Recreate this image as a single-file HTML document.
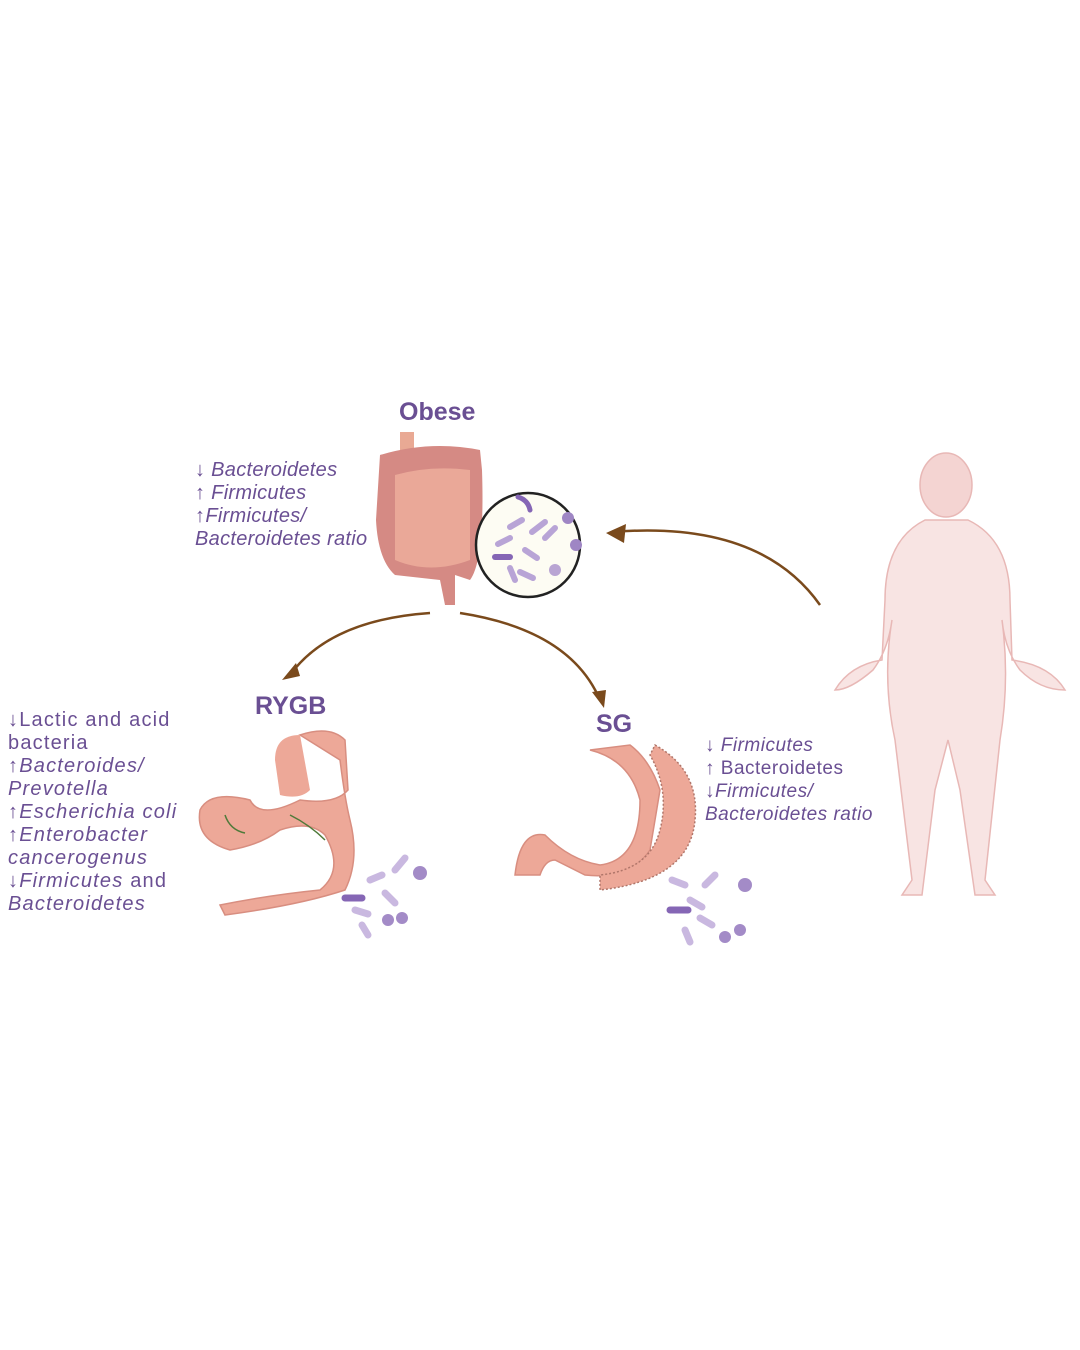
<!DOCTYPE html>
<html><head><meta charset="utf-8"><style>
html,body{margin:0;padding:0;background:#fff}
body{width:1080px;height:1350px;position:relative;overflow:hidden;font-family:"Liberation Sans",sans-serif;color:#6a4f93}
.t{position:absolute;font-size:19px;line-height:23px;white-space:nowrap}
.h{position:absolute;font-weight:bold;font-size:25px;color:#6a4f93}
i{font-style:italic}
</style></head><body>
<svg width="1080" height="1350" style="position:absolute;left:0;top:0">
<path d="M820,605 Q760,520 612,532" stroke="#7a4a1c" stroke-width="2.5" fill="none"/>
<path d="M626,524 L606,533 L624,543 Z" fill="#7a4a1c"/>
<path d="M430,613 Q330,620 290,675" stroke="#7a4a1c" stroke-width="2.5" fill="none"/>
<path d="M282,680 L296,663 L300,676 Z" fill="#7a4a1c"/>
<path d="M460,613 Q570,630 600,700" stroke="#7a4a1c" stroke-width="2.5" fill="none"/>
<path d="M604,708 L592,692 L606,690 Z" fill="#7a4a1c"/>
<rect x="400" y="432" width="14" height="25" fill="#e9a994"/>
<path d="M380,455 Q430,440 480,450 L482,470 Q485,560 470,580 L455,575 L455,605 L445,605 L440,580 L395,575 Q378,560 376,520 Z" fill="#d58a84"/>
<path d="M395,475 Q430,465 470,470 L470,560 Q430,575 395,560 Z" fill="#eaa898"/>
<circle cx="528" cy="545" r="52" fill="#fdfcf3" stroke="#222" stroke-width="2.5"/>
<g stroke="#b8a4d6" stroke-width="6" stroke-linecap="round">
<line x1="510" y1="527" x2="522" y2="520"/><line x1="532" y1="532" x2="545" y2="522"/><line x1="498" y1="544" x2="510" y2="538"/>
<line x1="525" y1="550" x2="537" y2="558"/><line x1="520" y1="572" x2="533" y2="578"/><line x1="510" y1="568" x2="515" y2="580"/><line x1="545" y1="538" x2="555" y2="528"/>
</g>
<line x1="495" y1="557" x2="510" y2="557" stroke="#8566b5" stroke-width="6" stroke-linecap="round"/>
<path d="M518,497 Q528,500 530,510" stroke="#8566b5" stroke-width="5" fill="none" stroke-linecap="round"/>
<circle cx="568" cy="518" r="6" fill="#9f86c4"/><circle cx="576" cy="545" r="6" fill="#9f86c4"/><circle cx="555" cy="570" r="6" fill="#b9a5d3"/>
<path d="M300,735 Q330,725 345,740 L348,790 Q335,805 300,800 Q260,820 250,800 Q210,790 200,810 Q195,840 230,850 Q260,845 280,830 Q310,820 325,835 Q345,870 320,890 Q270,895 220,905 L225,915 Q300,905 345,890 Q360,860 350,820 Q345,800 340,760 Z" fill="#eda898" stroke="#d88e80" stroke-width="1.5"/>
<path d="M300,735 Q275,735 275,760 L280,795 Q300,800 310,790 Z" fill="#eda898"/>
<path d="M225,815 Q230,830 245,833" stroke="#4f7a3a" stroke-width="1.5" fill="none"/>
<path d="M290,815 Q310,825 325,840" stroke="#4f7a3a" stroke-width="1.5" fill="none"/>
<g stroke="#c9b8e0" stroke-width="7" stroke-linecap="round">
<line x1="370" y1="880" x2="382" y2="875"/><line x1="395" y1="870" x2="405" y2="858"/><line x1="385" y1="893" x2="395" y2="903"/><line x1="355" y1="910" x2="368" y2="914"/><line x1="362" y1="925" x2="368" y2="935"/>
</g>
<line x1="345" y1="898" x2="362" y2="898" stroke="#8566b5" stroke-width="7" stroke-linecap="round"/>
<circle cx="420" cy="873" r="7" fill="#a38bc7"/><circle cx="388" cy="920" r="6" fill="#a38bc7"/><circle cx="402" cy="918" r="6" fill="#a38bc7"/>
<path d="M590,750 Q630,760 640,800 Q640,860 600,865 Q570,860 545,835 Q520,830 515,875 L540,875 Q545,860 555,860 L585,875 Q630,880 650,850 L660,790 Q650,760 630,745 Z" fill="#eda898" stroke="#d88e80" stroke-width="1.5"/>
<path d="M655,745 Q700,770 695,820 Q690,880 600,890 L600,875 Q650,870 660,830 Q670,790 650,755 Z" fill="#eda898" stroke="#b0766a" stroke-width="1.5" stroke-dasharray="2,2"/>
<g stroke="#c9b8e0" stroke-width="7" stroke-linecap="round">
<line x1="672" y1="880" x2="685" y2="885"/><line x1="705" y1="885" x2="715" y2="875"/><line x1="690" y1="900" x2="702" y2="907"/><line x1="700" y1="918" x2="712" y2="925"/><line x1="685" y1="930" x2="690" y2="942"/>
</g>
<line x1="670" y1="910" x2="688" y2="910" stroke="#8566b5" stroke-width="7" stroke-linecap="round"/>
<circle cx="745" cy="885" r="7" fill="#a38bc7"/><circle cx="725" cy="937" r="6" fill="#a38bc7"/><circle cx="740" cy="930" r="6" fill="#a38bc7"/>
<g fill="#f8e4e3" stroke="#e8b8b6" stroke-width="1.5">
<path d="M925,520 L968,520 Q1010,540 1010,600 L1012,660 Q1050,665 1065,690 Q1040,690 1020,670 Q1005,650 1002,620 Q1010,680 1000,740 L985,880 L995,895 L975,895 L960,790 L948,740 L935,790 L922,895 L902,895 L912,880 L895,740 Q882,680 892,620 Q888,650 873,670 Q850,690 835,690 Q850,665 882,660 L885,600 Q885,540 925,520 Z"/>
<ellipse cx="946" cy="485" rx="26" ry="32" fill="#f4d4d2"/>
</g>
</svg>
<div class="h" style="left:399px;top:398px">Obese</div>
<div class="h" style="left:255px;top:692px">RYGB</div>
<div class="h" style="left:596px;top:710px">SG</div>
<div class="t" style="left:195px;top:459px;font-size:20px;letter-spacing:0.3px">↓ <i>Bacteroidetes</i><br>↑ <i>Firmicutes</i><br>↑<i>Firmicutes/</i><br><i>Bacteroidetes ratio</i></div>
<div class="t" style="left:8px;top:709px;font-size:20px;letter-spacing:1.2px">↓Lactic and acid<br>bacteria<br>↑<i>Bacteroides/</i><br><i>Prevotella</i><br>↑<i>Escherichia coli</i><br>↑<i>Enterobacter</i><br><i>cancerogenus</i><br>↓<i>Firmicutes</i> and<br><i>Bacteroidetes</i></div>
<div class="t" style="left:705px;top:734px;font-size:19px;letter-spacing:0.5px">↓ <i>Firmicutes</i><br>↑ Bacteroidetes<br>↓<i>Firmicutes/</i><br><i>Bacteroidetes ratio</i></div>
</body></html>
